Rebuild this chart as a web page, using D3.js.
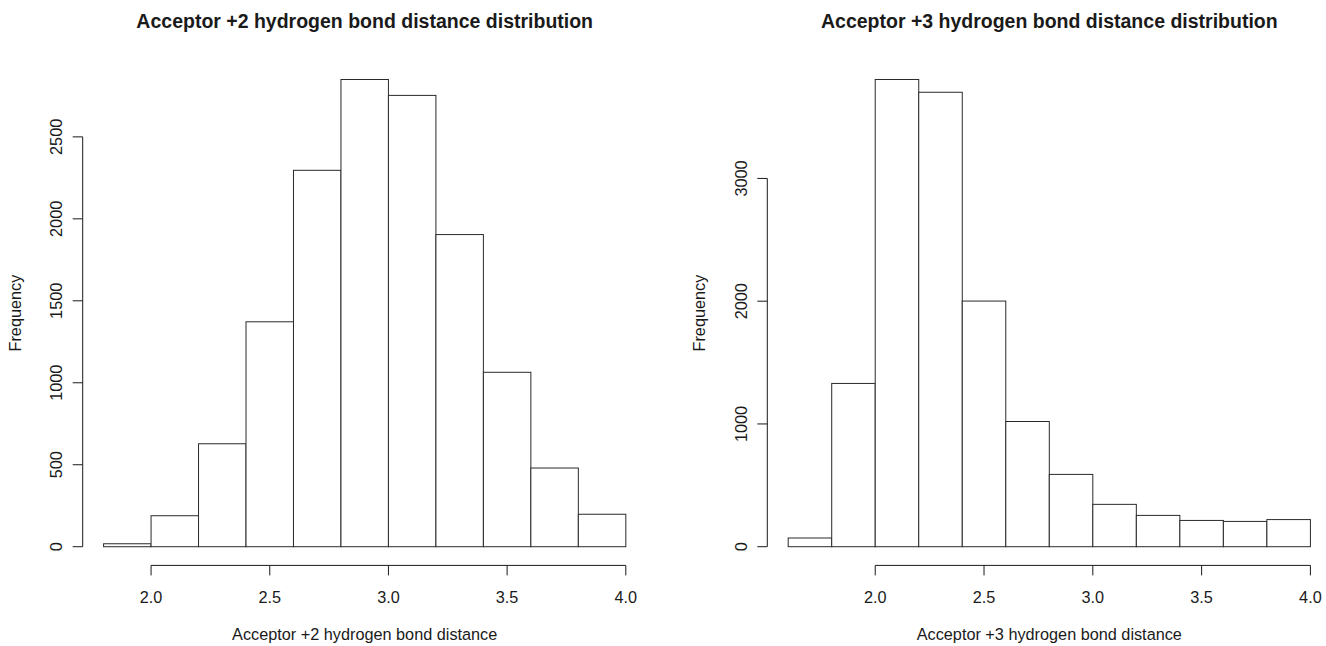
<!DOCTYPE html>
<html>
<head>
<meta charset="utf-8">
<script src="https://cdn.jsdelivr.net/npm/d3@7"></script>
<style>
  html, body { margin: 0; padding: 0; background: #fff; }
  svg { display: block; }
  text { font-family: "Liberation Sans", Arial, Helvetica, sans-serif; fill: #1a1a1a; }
</style>
</head>
<body>
<svg id="chart" width="1326" height="646"></svg>
<script>
// Histogram bin edges and counts for the two acceptor offsets
const plus2Breaks = [1.8, 2.0, 2.2, 2.4, 2.6, 2.8, 3.0, 3.2, 3.4, 3.6, 3.8, 4.0];
const plus2Counts = [18, 189, 628, 1372, 2296, 2850, 2753, 1904, 1064, 480, 198];

const plus3Breaks = [1.6, 1.8, 2.0, 2.2, 2.4, 2.6, 2.8, 3.0, 3.2, 3.4, 3.6, 3.8, 4.0];
const plus3Counts = [71, 1330, 3806, 3702, 2001, 1020, 589, 345, 255, 214, 206, 221];

// Axis tick values
const xTicks = [2.0, 2.5, 3.0, 3.5, 4.0];
const plus2YTicks = [0, 500, 1000, 1500, 2000, 2500];
const plus3YTicks = [0, 1000, 2000, 3000];

// Titles and labels
const plus2Title = "Acceptor +2 hydrogen bond distance distribution";
const plus2XLabel = "Acceptor +2 hydrogen bond distance";
const plus3Title = "Acceptor +3 hydrogen bond distance distribution";
const plus3XLabel = "Acceptor +3 hydrogen bond distance";
const yLabel = "Frequency";

const svg = d3.select("#chart");

const panels = [
  { breaks: plus2Breaks, counts: plus2Counts, yTicks: plus2YTicks,
    title: plus2Title, xLabel: plus2XLabel, left: 82.7, width: 564 },
  { breaks: plus3Breaks, counts: plus3Counts, yTicks: plus3YTicks,
    title: plus3Title, xLabel: plus3XLabel, left: 767.3, width: 564 }
];

const plotTop = 60.8, plotBottom = 565.4;
const lineH = 20.9;
const baseFont = 16.25;
const ink = "#1a1a1a";

panels.forEach(p => {
  const xMin = d3.min(p.breaks), xMax = d3.max(p.breaks);
  const xPad = 0.04 * (xMax - xMin);
  const x = d3.scaleLinear()
    .domain([xMin - xPad, xMax + xPad])
    .range([p.left, p.left + p.width]);

  const yMax = d3.max(p.counts);
  const y = d3.scaleLinear()
    .domain([-0.04 * yMax, 1.04 * yMax])
    .range([plotBottom, plotTop]);

  const g = svg.append("g");

  // bars
  const bins = p.counts.map((c, i) => ({ x0: p.breaks[i], x1: p.breaks[i + 1], n: c }));
  g.selectAll("rect.bar").data(bins).enter().append("rect")
    .attr("class", "bar")
    .attr("x", d => x(d.x0))
    .attr("y", d => y(d.n))
    .attr("width", d => x(d.x1) - x(d.x0))
    .attr("height", d => y(0) - y(d.n))
    .attr("fill", "#fff")
    .attr("stroke", "#2a2a2a")
    .attr("stroke-width", 1);

  // x axis
  const xa = g.append("g");
  xa.append("line")
    .attr("x1", x(xTicks[0])).attr("x2", x(xTicks[xTicks.length - 1]))
    .attr("y1", plotBottom).attr("y2", plotBottom)
    .attr("stroke", ink).attr("stroke-width", 1);
  xa.selectAll("line.tick").data(xTicks).enter().append("line")
    .attr("class", "tick")
    .attr("x1", d => x(d)).attr("x2", d => x(d))
    .attr("y1", plotBottom).attr("y2", plotBottom + 10)
    .attr("stroke", ink).attr("stroke-width", 1);
  xa.selectAll("text").data(xTicks).enter().append("text")
    .attr("x", d => x(d))
    .attr("y", 602.5)
    .attr("text-anchor", "middle")
    .style("font-size", baseFont + "px")
    .text(d => d3.format(".1f")(d));

  // y axis
  const ya = g.append("g");
  ya.append("line")
    .attr("x1", p.left).attr("x2", p.left)
    .attr("y1", y(p.yTicks[0])).attr("y2", y(p.yTicks[p.yTicks.length - 1]))
    .attr("stroke", ink).attr("stroke-width", 1);
  ya.selectAll("line.tick").data(p.yTicks).enter().append("line")
    .attr("class", "tick")
    .attr("x1", p.left - 10).attr("x2", p.left)
    .attr("y1", d => y(d)).attr("y2", d => y(d))
    .attr("stroke", ink).attr("stroke-width", 1);
  ya.selectAll("text").data(p.yTicks).enter().append("text")
    .attr("transform", d => `translate(${p.left - lineH + 0.5},${y(d)}) rotate(-90)`)
    .attr("text-anchor", "middle")
    .style("font-size", baseFont + "px")
    .text(d => d);

  // axis titles
  g.append("text")
    .attr("x", p.left + p.width / 2)
    .attr("y", 640)
    .attr("text-anchor", "middle")
    .style("font-size", baseFont + "px")
    .text(p.xLabel);
  g.append("text")
    .attr("transform", `translate(${p.left - 3 * lineH + 0.5},${(plotTop + plotBottom) / 2}) rotate(-90)`)
    .attr("text-anchor", "middle")
    .style("font-size", baseFont + "px")
    .text(yLabel);

  // main title
  g.append("text")
    .attr("x", p.left + p.width / 2)
    .attr("y", 28)
    .attr("text-anchor", "middle")
    .style("font-size", (baseFont * 1.2) + "px")
    .style("font-weight", "bold")
    .text(p.title);
});
</script>
</body>
</html>
